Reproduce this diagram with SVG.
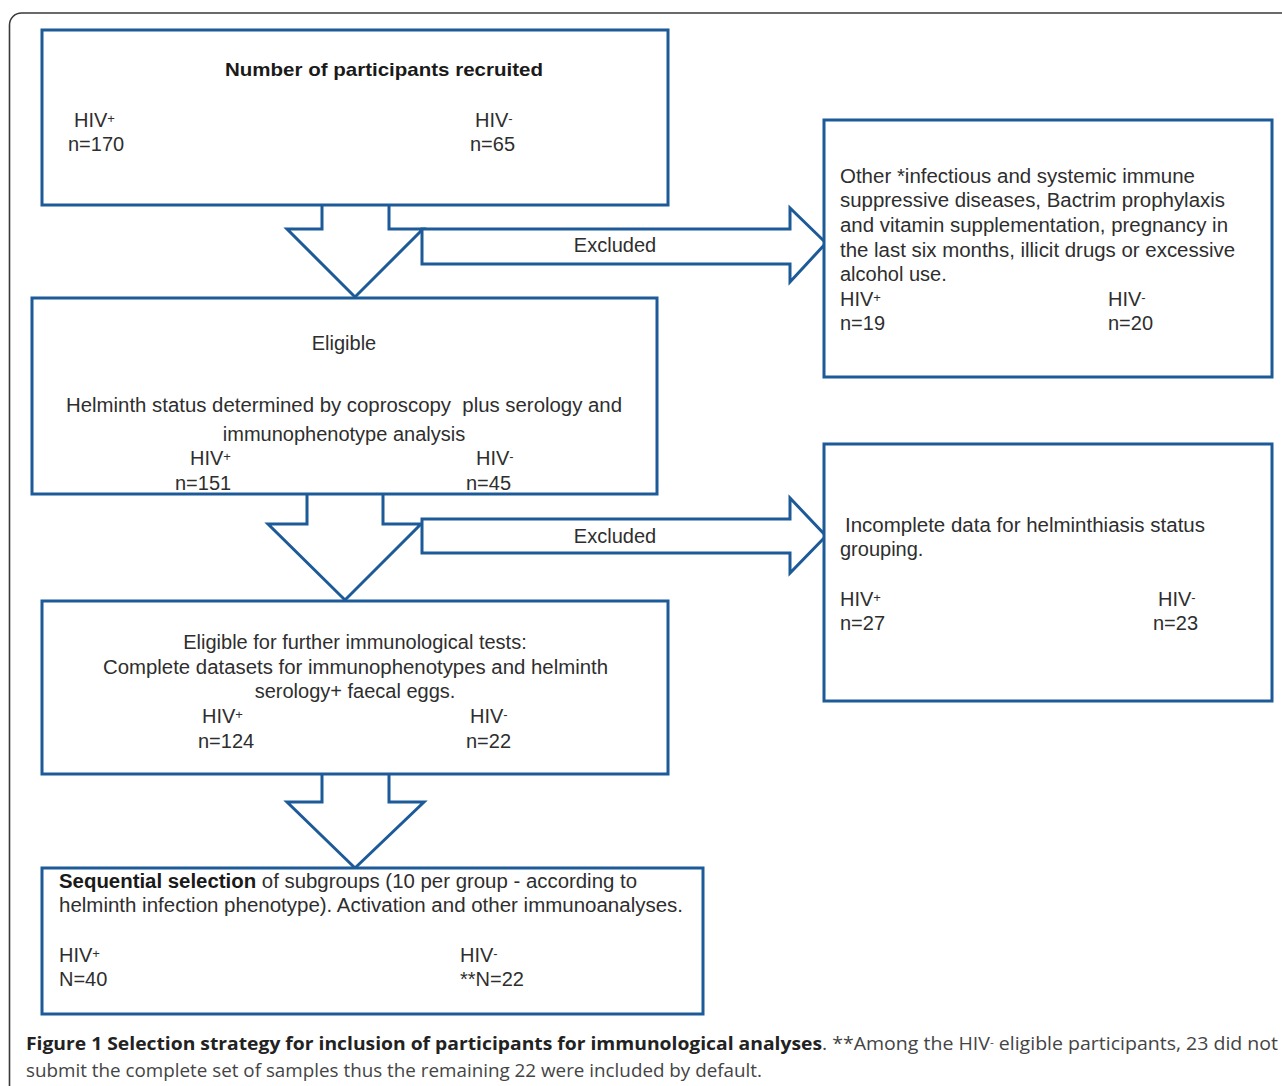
<svg xmlns="http://www.w3.org/2000/svg" width="1282" height="1086" viewBox="0 0 1282 1086">
<style>
.bx{fill:#fff;stroke:#1d5a98;stroke-width:3}
.ar{fill:#fff;stroke:#1d5a98;stroke-width:3;stroke-linejoin:miter}
.t{font-family:"Liberation Sans",Arial,sans-serif;font-size:20px;fill:#2e2e2e}
.tb{font-family:"Liberation Sans",Arial,sans-serif;font-size:19px;font-weight:bold;fill:#1a1a1a}
.c{font-family:"Open Sans","Liberation Sans",sans-serif;font-size:18px;fill:#444}
.cb{font-family:"Open Sans","Liberation Sans",sans-serif;font-size:18px;font-weight:bold;fill:#222}
.m{text-anchor:middle}
.sp{font-size:13px}
</style>
<rect width="1282" height="1086" fill="#fff"/>
<path d="M9.5,1090 V25 A12,12 0 0 1 21.5,13 H1290" fill="none" stroke="#3a3a3a" stroke-width="1.6"/>

<g id="connectors">
  <path class="ar" d="M322,205 V229 H287 L355,297 L423,229 H389 V205"/>
  <path class="ar" d="M422,264 V229 H790 V208 L826,243 L790,282 V264 Z"/>
  <path class="ar" d="M307,494 V524 H268 L345,600 L421,524 H383 V494"/>
  <path class="ar" d="M422,553 V519 H790 V498 L826,536 L790,573 V553 Z"/>
  <path class="ar" d="M322,774 V802 H287 L355,868 L424,802 H389 V774"/>
  <text class="t m" x="615" y="252">Excluded</text>
  <text class="t m" x="615" y="543">Excluded</text>
</g>

<g id="recruited">
  <rect class="bx" x="42" y="30" width="626" height="175"/>
  <text class="tb" x="225" y="76" textLength="318" lengthAdjust="spacingAndGlyphs">Number of participants recruited</text>
  <text class="t" x="74" y="127">HIV<tspan class="sp" baseline-shift="30%">+</tspan></text>
  <text class="t" x="68" y="151">n=170</text>
  <text class="t" x="475" y="127">HIV<tspan class="sp" baseline-shift="30%">-</tspan></text>
  <text class="t" x="470" y="151">n=65</text>
</g>

<g id="excluded1">
  <rect class="bx" x="824" y="120" width="448" height="257"/>
  <text class="t" x="840" y="183" textLength="355" lengthAdjust="spacingAndGlyphs">Other *infectious and systemic immune</text>
  <text class="t" x="840" y="207" textLength="385" lengthAdjust="spacingAndGlyphs">suppressive diseases, Bactrim prophylaxis</text>
  <text class="t" x="840" y="232" textLength="388" lengthAdjust="spacingAndGlyphs">and vitamin supplementation, pregnancy in</text>
  <text class="t" x="840" y="257" textLength="395" lengthAdjust="spacingAndGlyphs">the last six months, illicit drugs or excessive</text>
  <text class="t" x="840" y="281">alcohol use.</text>
  <text class="t" x="840" y="306">HIV<tspan class="sp" baseline-shift="30%">+</tspan></text>
  <text class="t" x="840" y="330">n=19</text>
  <text class="t" x="1108" y="306">HIV<tspan class="sp" baseline-shift="30%">-</tspan></text>
  <text class="t" x="1108" y="330">n=20</text>
</g>

<g id="eligible">
  <rect class="bx" x="32" y="298" width="625" height="196"/>
  <text class="t m" x="344" y="350">Eligible</text>
  <text class="t" x="66" y="412" textLength="556" lengthAdjust="spacingAndGlyphs">Helminth status determined by coproscopy&#160; plus serology and</text>
  <text class="t m" x="344" y="441">immunophenotype analysis</text>
  <text class="t" x="190" y="465">HIV<tspan class="sp" baseline-shift="30%">+</tspan></text>
  <text class="t" x="175" y="490">n=151</text>
  <text class="t" x="476" y="465">HIV<tspan class="sp" baseline-shift="30%">-</tspan></text>
  <text class="t" x="466" y="490">n=45</text>
</g>

<g id="excluded2">
  <rect class="bx" x="824" y="444" width="448" height="257"/>
  <text class="t" x="845" y="532" textLength="360" lengthAdjust="spacingAndGlyphs">Incomplete data for helminthiasis status</text>
  <text class="t" x="840" y="556">grouping.</text>
  <text class="t" x="840" y="606">HIV<tspan class="sp" baseline-shift="30%">+</tspan></text>
  <text class="t" x="840" y="630">n=27</text>
  <text class="t" x="1158" y="606">HIV<tspan class="sp" baseline-shift="30%">-</tspan></text>
  <text class="t" x="1153" y="630">n=23</text>
</g>

<g id="further">
  <rect class="bx" x="42" y="601" width="626" height="173"/>
  <text class="t m" x="355" y="649">Eligible for further immunological tests:</text>
  <text class="t" x="103" y="674" textLength="505" lengthAdjust="spacingAndGlyphs">Complete datasets for immunophenotypes and helminth</text>
  <text class="t m" x="355" y="698">serology+ faecal eggs.</text>
  <text class="t" x="202" y="723">HIV<tspan class="sp" baseline-shift="30%">+</tspan></text>
  <text class="t" x="198" y="748">n=124</text>
  <text class="t" x="470" y="723">HIV<tspan class="sp" baseline-shift="30%">-</tspan></text>
  <text class="t" x="466" y="748">n=22</text>
</g>

<g id="selection">
  <rect class="bx" x="42" y="868" width="661" height="146"/>
  <text class="t" x="59" y="888" textLength="578" lengthAdjust="spacingAndGlyphs"><tspan font-weight="bold" fill="#1a1a1a">Sequential selection</tspan> of subgroups (10 per group - according to</text>
  <text class="t" x="59" y="912" textLength="624" lengthAdjust="spacingAndGlyphs">helminth infection phenotype). Activation and other immunoanalyses.</text>
  <text class="t" x="59" y="962">HIV<tspan class="sp" baseline-shift="30%">+</tspan></text>
  <text class="t" x="59" y="986">N=40</text>
  <text class="t" x="460" y="962">HIV<tspan class="sp" baseline-shift="30%">-</tspan></text>
  <text class="t" x="460" y="986">**N=22</text>
</g>

<g id="caption">
  <text class="cb" x="26" y="1050" textLength="796" lengthAdjust="spacingAndGlyphs">Figure 1 Selection strategy for inclusion of participants for immunological analyses</text>
  <text class="c" x="822" y="1050" textLength="456" lengthAdjust="spacingAndGlyphs">. **Among the HIV<tspan font-size="11" baseline-shift="40%">-</tspan> eligible participants, 23 did not</text>
  <text class="c" x="26" y="1077" textLength="736" lengthAdjust="spacingAndGlyphs">submit the complete set of samples thus the remaining 22 were included by default.</text>
</g>
</svg>
